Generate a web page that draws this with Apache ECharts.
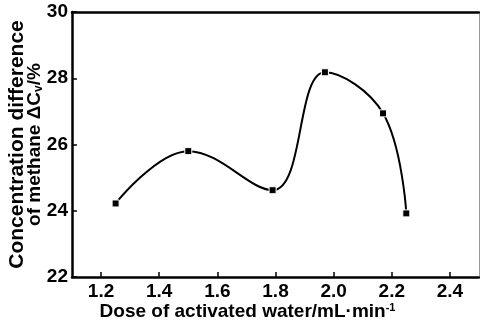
<!DOCTYPE html>
<html>
<head>
  <meta charset="utf-8">
  <script type="text/javascript" src="https://cdn.jsdelivr.net/npm/echarts@6/dist/echarts.min.js"></script>
  <style>
    body{
      margin: 0;
      background-color: #ffffff;
    }
  </style>
</head>
<body>
  <div id="main" style="width: 480px;height: 321px;"></div>
  <script>
    // dose of activated water (mL/min) and methane concentration difference (%)
    var dose = [1.25, 1.50, 1.79, 1.97, 2.17, 2.25];
    var deltaC = [24.22, 25.80, 24.62, 28.18, 26.94, 23.92];
    var xTicks = [1.2, 1.4, 1.6, 1.8, 2.0, 2.2, 2.4];
    var yTicks = [22, 24, 26, 28, 30];

    var font = 'Liberation Sans, Arial, sans-serif';
    var chart = echarts.init(document.getElementById('main'));

    var points = [];
    for (let i = 0; i < dose.length; i++) {
      points.push([dose[i], deltaC[i]]);
    }

    var option = {
      animation: false,
      grid: {
        left: 72,
        top: 12,
        right: 1,
        bottom: 44,
        containLabel: false,
        outerBoundsMode: 'none'
      },
      xAxis: [{
        type: 'value',
        min: 1.1,
        max: 2.5,
        position: 'bottom',
        name: 'Dose of activated water/mL·min{sup|-1}',
        nameLocation: 'middle',
        nameGap: 25,
        nameMoveOverlap: false,
        nameTextStyle: {
          color: '#000',
          fontFamily: font,
          fontWeight: 'bold',
          fontSize: 19,
          padding: [0, 56, 0, 0],
          rich: {
            sup: {
              fontFamily: font,
              fontWeight: 'bold',
              fontSize: 11,
              verticalAlign: 'top',
              padding: [0, 0, 8, 0]
            }
          }
        },
        axisLine: { lineStyle: { color: '#000', width: 2.5 } },
        axisTick: {
          inside: true,
          length: 5,
          lineStyle: { color: '#000', width: 1.5 },
          customValues: xTicks
        },
        axisLabel: {
          margin: 5,
          color: '#000',
          fontFamily: font,
          fontWeight: 'bold',
          fontSize: 19,
          customValues: xTicks,
          formatter: function (v) { return v.toFixed(1); }
        },
        splitLine: { show: false }
      }, {
        type: 'value',
        min: 1.1,
        max: 2.5,
        position: 'top',
        axisLine: { lineStyle: { color: '#000', width: 2.5 } },
        axisTick: { show: false },
        axisLabel: { show: false },
        splitLine: { show: false }
      }],
      yAxis: [{
        type: 'value',
        min: 22,
        max: 30,
        interval: 2,
        position: 'left',
        name: '{a|Concentration difference}\n{b|of methane ΔC}{sub|v}{b|/%}',
        nameLocation: 'middle',
        nameGap: 28,
        nameMoveOverlap: false,
        nameTextStyle: {
          color: '#000',
          fontFamily: font,
          fontWeight: 'bold',
          lineHeight: 18,
          rich: {
            a: {
              fontFamily: font,
              fontWeight: 'bold',
              fontSize: 21,
              lineHeight: 18
            },
            b: {
              fontFamily: font,
              fontWeight: 'bold',
              fontSize: 19,
              lineHeight: 18
            },
            sub: {
              fontFamily: font,
              fontWeight: 'bold',
              fontSize: 12,
              lineHeight: 18,
              padding: [8, 0, 0, 0]
            }
          }
        },
        axisLine: { show: true, lineStyle: { color: '#000', width: 2.5 } },
        axisTick: {
          inside: true,
          length: 5,
          lineStyle: { color: '#000', width: 1.5 }
        },
        axisLabel: {
          margin: 4,
          color: '#000',
          fontFamily: font,
          fontWeight: 'bold',
          fontSize: 19,
          customValues: yTicks
        },
        splitLine: { show: false }
      }, {
        type: 'value',
        min: 22,
        max: 30,
        position: 'right',
        axisLine: { show: true, lineStyle: { color: '#999', width: 1 } },
        axisTick: { show: false },
        axisLabel: { show: false },
        splitLine: { show: false }
      }],
      series: [{
        type: 'line',
        data: points,
        smooth: 0.4,
        symbol: 'rect',
        symbolSize: 7,
        lineStyle: { color: '#000', width: 2 },
        itemStyle: { color: '#000', borderColor: '#fff', borderWidth: 1 }
      }]
    };
    chart.setOption(option);
  </script>
</body>
</html>
